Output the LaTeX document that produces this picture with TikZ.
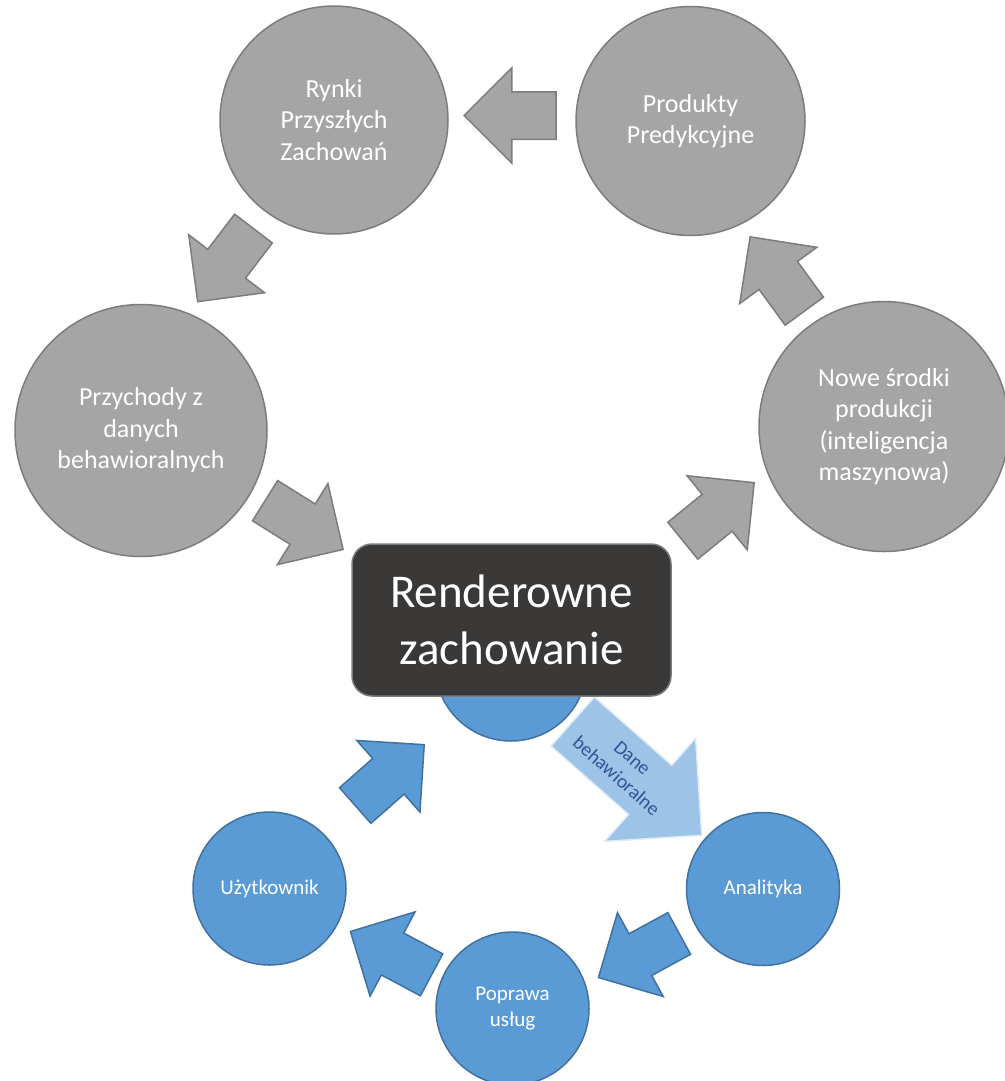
\documentclass[tikz,border=0pt]{standalone}
\usepackage{fontspec}
\setmainfont{Carlito}
\usetikzlibrary{shapes.arrows, calc}

\definecolor{gfill}{HTML}{A5A5A5}
\definecolor{gline}{HTML}{7C7C7C}
\definecolor{bfill}{HTML}{5B9BD5}
\definecolor{bline}{HTML}{41719C}
\definecolor{lfill}{HTML}{9DC3E6}
\definecolor{lline}{HTML}{DEEBF7}
\definecolor{dtext}{HTML}{2F5597}
\definecolor{boxfill}{HTML}{3B3838}

\begin{document}
\begin{tikzpicture}[x=1pt, y=-1pt,
		gcirc/.style={circle, draw=gline, fill=gfill, line width=1.5pt, text=white, align=center, inner sep=0pt, font=\fontsize{26}{31.5}\selectfont},
		bcirc/.style={circle, draw=bline, fill=bfill, line width=1.5pt, text=white, align=center, inner sep=0pt, minimum size=153pt, font=\fontsize{21}{25.5}\selectfont},
		garrow/.style={single arrow, anchor=tip, draw=gline, fill=gfill, line width=1.5pt, inner xsep=0pt, inner ysep=23pt, minimum height=92pt, minimum width=94pt, single arrow head extend=24pt},
		barrow/.style={garrow, draw=bline, fill=bfill},
		larrow/.style={single arrow, anchor=tip, draw=lline, fill=lfill, line width=1.5pt, inner xsep=0pt, inner ysep=32pt, minimum height=172pt, minimum width=136pt, single arrow head extend=36pt},
		mainbox/.style={rectangle, rounded corners=20pt, draw=gline, fill=boxfill, line width=1.5pt, text=white, align=center, minimum width=319pt, minimum height=152pt, font=\fontsize{47}{57}\selectfont}]
	\useasboundingbox (0,0) rectangle (1004,1081);

	\node[gcirc, minimum size=228pt] (rynki) at (334,120) {Rynki\\Przyszłych\\Zachowań};
	\node[gcirc, minimum size=229pt] (produkty) at (690.5,121) {Produkty\\Predykcyjne};
	\node[gcirc, minimum size=252pt] (przychody) at (141,430.5) {Przychody z\\danych\\behawioralnych};
	\node[gcirc, minimum size=250pt] (srodki) at (884,426.5) {Nowe środki\\produkcji\\(inteligencja\\maszynowa)};

	\node[garrow, rotate=180] (a1) at (463,115.5) {};
	\node[garrow, rotate=232.6] (a2) at (197,302.5) {};
	\node[garrow, rotate=-32] (a3) at (344,550) {};
	\node[garrow, rotate=39.1] (a4) at (755,482) {};
	\node[garrow, rotate=126.1] (a5) at (749.5,236) {};

	\node[bcirc, minimum size=152pt] (dane) at (511,665) {};
	\node[bcirc] (analityka) at (763,889) {Analityka};
	\node[bcirc] (poprawa) at (512.5,1008.5) {Poprawa\\usług};
	\node[bcirc] (uzytkownik) at (269.5,888.5) {Użytkownik};

	\node[barrow, rotate=41.4] (b1) at (425,744) {};
	\node[barrow, rotate=208.6] (b2) at (597.5,978) {};
	\node[barrow, rotate=151.9] (b3) at (349.5,931) {};

	\node[larrow, rotate=-41.4] (strumien) at (702.5,836) {};
	\node[text=dtext, align=center, rotate=-41.4, font=\fontsize{19.5}{24}\selectfont] (daneTxt) at ($(strumien.tail)!0.4!(strumien.tip)$) {Dane\\behawioralne};

	\node[mainbox] (render) at (511.5,620) {Renderowne\\zachowanie};
\end{tikzpicture}
\end{document}
